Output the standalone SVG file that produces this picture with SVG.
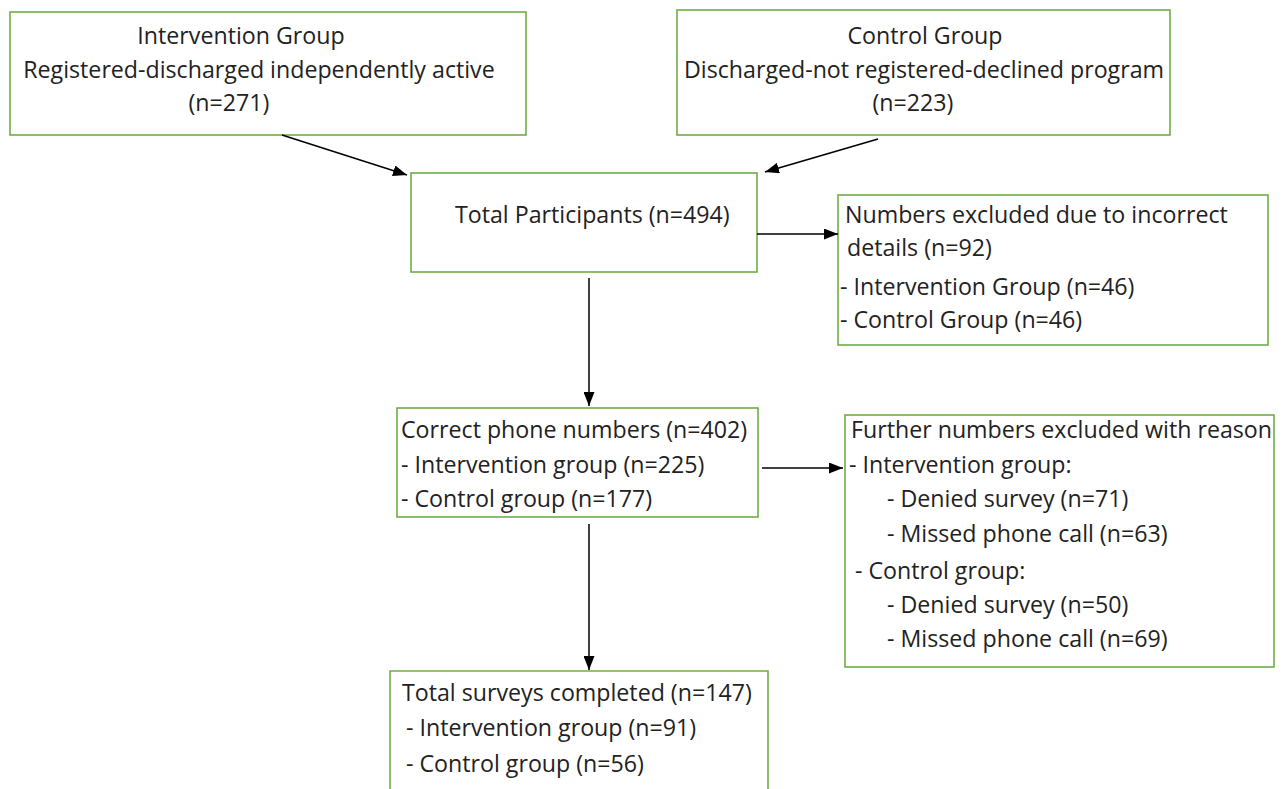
<svg xmlns="http://www.w3.org/2000/svg" width="1286" height="789" viewBox="0 0 1286 789">
<defs>
<marker id="ah" markerWidth="14" markerHeight="11" refX="14" refY="5.5" orient="auto" markerUnits="userSpaceOnUse">
<path d="M0,0 L14,5.5 L0,11 Z" fill="#000"/>
</marker>
<style>
.box{fill:#fff;stroke:#70AD47;stroke-width:1.6}
text{font-family:"Open Sans","Noto Sans",sans-serif;font-size:23.2px;fill:#222}
.c{text-anchor:middle}
.ln{stroke:#000;stroke-width:1.5;fill:none;marker-end:url(#ah)}
</style>
</defs>
<rect width="1286" height="789" fill="#fff"/>
<g id="intervention">
<rect class="box" x="10" y="12" width="516" height="123"/>
<text class="c" x="241" y="44">Intervention Group</text>
<text class="c" x="259" y="78">Registered-discharged independently active</text>
<text class="c" x="229" y="111">(n=271)</text>
</g>
<g id="control">
<rect class="box" x="677" y="10" width="493" height="125"/>
<text class="c" x="925" y="44">Control Group</text>
<text class="c" x="924" y="78">Discharged-not registered-declined program</text>
<text class="c" x="913" y="111">(n=223)</text>
</g>
<g id="total">
<rect class="box" x="411" y="173" width="346" height="99"/>
<text x="455" y="223">Total Participants (n=494)</text>
</g>
<g id="excluded">
<rect class="box" x="838" y="195" width="430" height="150"/>
<text x="845" y="223">Numbers excluded due to incorrect</text>
<text x="847" y="256">details (n=92)</text>
<text x="840" y="295">- Intervention Group (n=46)</text>
<text x="840" y="328">- Control Group (n=46)</text>
</g>
<g id="correct">
<rect class="box" x="397" y="408" width="361" height="109"/>
<text x="401" y="438">Correct phone numbers (n=402)</text>
<text x="401" y="473">- Intervention group (n=225)</text>
<text x="401" y="507">- Control group (n=177)</text>
</g>
<g id="further">
<rect class="box" x="845" y="415" width="429" height="252"/>
<text x="851" y="438">Further numbers excluded with reason</text>
<text x="849" y="473">- Intervention group:</text>
<text x="887" y="507">- Denied survey (n=71)</text>
<text x="887" y="542">- Missed phone call (n=63)</text>
<text x="855" y="579">- Control group:</text>
<text x="887" y="613">- Denied survey (n=50)</text>
<text x="887" y="647">- Missed phone call (n=69)</text>
</g>
<g id="completed">
<path d="M390,789 V671 H768 V789" fill="#fff" stroke="#70AD47" stroke-width="1.6"/>
<text x="402" y="701">Total surveys completed (n=147)</text>
<text x="406" y="736">- Intervention group (n=91)</text>
<text x="406" y="772">- Control group (n=56)</text>
</g>
<g id="connectors">
<line class="ln" x1="282" y1="135" x2="407" y2="175"/>
<line class="ln" x1="878" y1="139" x2="765" y2="172"/>
<line class="ln" x1="757" y1="234" x2="838" y2="234"/>
<line class="ln" x1="589" y1="278" x2="589" y2="406"/>
<line class="ln" x1="762" y1="468" x2="843" y2="468"/>
<line class="ln" x1="589" y1="524" x2="589" y2="670"/>
</g>
</svg>
